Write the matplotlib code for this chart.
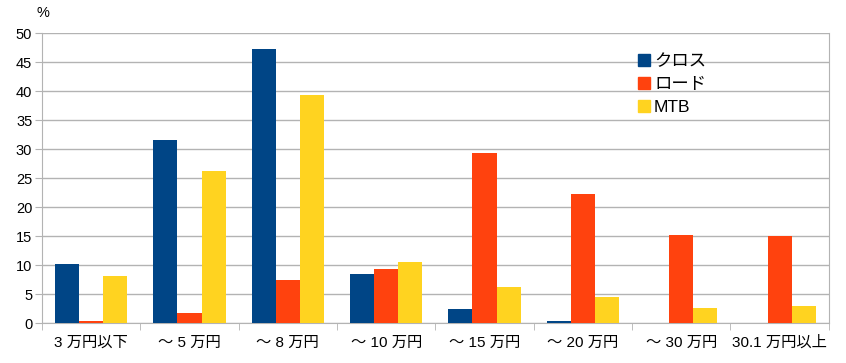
import numpy as np
import matplotlib
matplotlib.use('Agg')
import matplotlib.pyplot as plt
from matplotlib.lines import Line2D

plt.rcParams['font.family'] = ['Liberation Sans', 'Noto Sans CJK JP', 'DejaVu Sans']

# Datos
categorias = ['3 万円以下', '～ 5 万円', '～ 8 万円', '～ 10 万円',
              '～ 15 万円', '～ 20 万円', '～ 30 万円', '30.1 万円以上']
cross = [10.2, 31.6, 47.3, 8.5, 2.4, 0.35, 0.0, 0.0]
road = [0.4, 1.7, 7.4, 9.3, 29.3, 22.2, 15.2, 15.0]
mtb = [8.1, 26.2, 39.3, 10.5, 6.2, 4.5, 2.6, 2.9]
series = ['クロス', 'ロード', 'MTB']
colores = ['#004586', '#ff420e', '#ffd320']

fig = plt.figure(figsize=(8.46, 3.63), dpi=100)
ax = fig.add_axes([0.0496, 0.110, 0.930, 0.799])

x = np.arange(len(categorias))
w = 0.245
for i, (vals, c) in enumerate(zip([cross, road, mtb], colores)):
    ax.bar(x + (i - 1) * w, vals, width=w, color=c, zorder=3)

ax.set_xlim(-0.5, len(categorias) - 0.5)
ax.set_ylim(0, 50)
ax.set_yticks(range(0, 51, 5))
ax.grid(axis='y', color='#b3b3b3', linewidth=1, zorder=0)

ax.set_xticks(x)
ax.set_xticklabels(categorias, fontsize=11)
ax.set_xticks(np.arange(-0.5, len(categorias)), minor=True)
ax.tick_params(axis='x', which='major', length=0, pad=9)
ax.tick_params(axis='x', which='minor', length=5, color='#b3b3b3')
ax.tick_params(axis='y', length=5, color='#b3b3b3', labelsize=10.5, pad=2)

ax.spines['top'].set_visible(False)
for s in ['left', 'bottom', 'right']:
    ax.spines[s].set_color('#b3b3b3')

fig.text(0.043, 0.945, '%', fontsize=10.5, ha='left', va='bottom')

handles = [Line2D([0], [0], marker='s', color='none', markerfacecolor=c,
                  markeredgecolor=c, markersize=9) for c in colores]
fig.legend(handles, series, loc='upper left', bbox_to_anchor=(0.733, 0.895),
           frameon=False, fontsize=12.5, handletextpad=0.05, labelspacing=0.45,
           handlelength=1.0)

fig.savefig('out.png', dpi=100)
